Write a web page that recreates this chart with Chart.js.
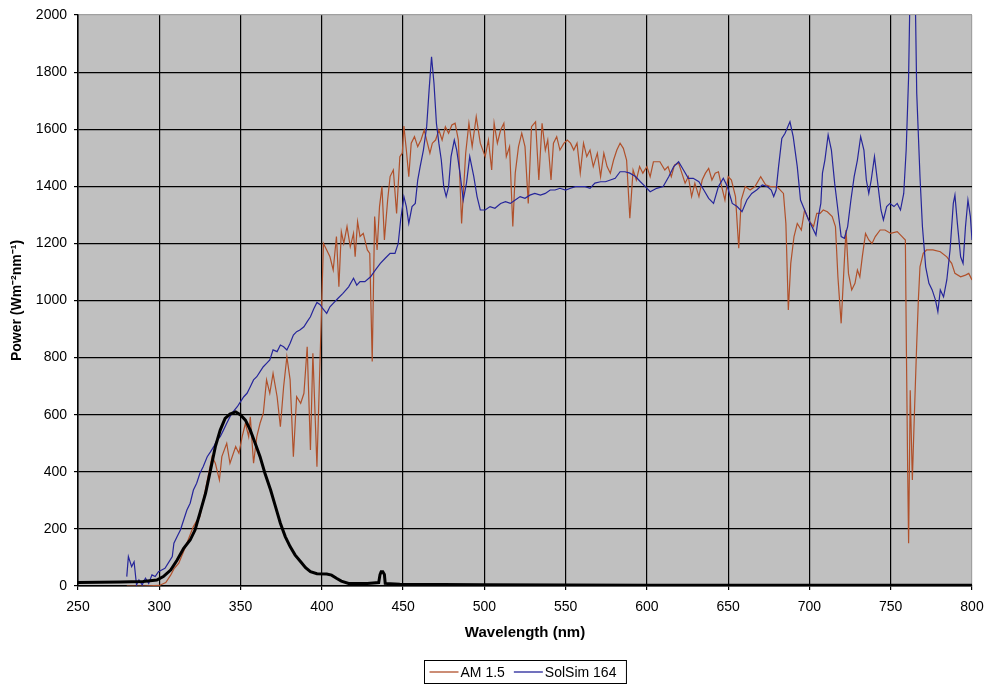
<!DOCTYPE html>
<html>
<head>
<meta charset="utf-8">
<title>AM 1.5 vs SolSim 164</title>
<script src="https://cdn.jsdelivr.net/npm/chart.js@4.4.1/dist/chart.umd.min.js"></script>
<style>
  html, body { margin: 0; padding: 0; background: #fff; }
  #wrap { width: 987px; height: 684px; }
</style>
</head>
<body>
<div id="wrap"><canvas id="spectrum" width="987" height="684"></canvas></div>
<script>
// wavelength (nm) / power pairs
const amWl = [280, 290, 300, 304, 307, 309, 312, 314.5, 317, 319, 321, 323, 325, 327.5, 330, 332.5, 334.5, 337, 338.5, 341.5,
  343.5, 347, 349, 351, 353, 355, 356, 358, 360, 362, 364, 366, 368, 370, 372.5, 374.5, 376.5, 378.5, 380.5, 382.5,
  384.5, 387, 389, 391, 393, 394.5, 397, 401, 403, 405, 407, 409, 410.5, 412, 413.5, 415.5, 417.5, 419.5, 420.5, 422,
  423.5, 425.5, 428, 429.5, 431, 432.5, 434, 435.5, 437, 438.5, 440.5, 442, 444, 446, 448, 449.5, 450.5, 452, 453.5, 455,
  457, 459, 461, 463, 464.5, 466.5, 468, 470, 472, 474, 476, 478, 480, 482, 484, 486, 488.5, 490.5, 492.5, 495,
  497.5, 500.5, 502.5, 504.5, 506, 508, 510, 512, 513.5, 515.5, 517.5, 519, 521, 523, 525, 527, 529, 531.5, 533.5, 535.5,
  537.5, 539, 541, 542.5, 544.5, 546.5, 549, 551, 553, 555, 557, 559, 561, 563, 565, 567, 569.5, 571.5, 573.5, 575.5,
  577.5, 579.5, 581.5, 583.5, 585.5, 587.5, 589.5, 591.5, 593.5, 595.5, 597.5, 600, 602, 604, 608, 611, 613, 615, 617, 619.5,
  621.5, 623.5, 625.5, 627.5, 629.5, 632, 634, 636, 638, 640, 642, 644, 646, 648, 650, 652, 654.5, 656.5, 658, 660.5,
  663.5, 666.5, 670, 673, 676, 680, 684, 685.5, 687, 688.5, 690.5, 692.5, 695, 697, 699.5, 702.5, 704.5, 706.5, 708.5, 711,
  714, 716, 717.5, 719.5, 721.5, 722.5, 724, 726, 728, 729.5, 731, 732.5, 734.5, 736.5, 738.5, 740.5, 743.5, 746.5, 750, 754,
  757, 759, 759.6, 760.4, 761, 762, 763.3, 764.5, 766, 767, 768, 770, 772, 776, 780.5, 784.5, 787.5, 789.5, 793, 796,
  798, 800];
const amVal = [0, 0, 2, 12, 38, 60, 80, 115, 150, 180, 208, 228, 243, 313, 383, 453, 430, 371, 453, 500,
  430, 488, 465, 523, 570, 523, 593, 430, 523, 570, 605, 722, 675, 745, 663, 558, 698, 803, 722, 453,
  663, 640, 675, 838, 476, 815, 418, 1200, 1177, 1153, 1107, 1224, 1048, 1241, 1200, 1259, 1188, 1235, 1153, 1276,
  1224, 1235, 1177, 1165, 786, 1294, 1177, 1329, 1399, 1212, 1352, 1434, 1457, 1305, 1504, 1516, 1611, 1527, 1434, 1551,
  1574, 1539, 1562, 1597, 1562, 1516, 1551, 1562, 1597, 1562, 1609, 1586, 1615, 1621, 1562, 1270, 1516, 1621, 1539, 1644,
  1551, 1504, 1562, 1457, 1621, 1551, 1597, 1621, 1504, 1539, 1259, 1446, 1539, 1586, 1539, 1340, 1609, 1626, 1422, 1621,
  1527, 1562, 1422, 1551, 1574, 1527, 1551, 1562, 1551, 1527, 1551, 1446, 1551, 1504, 1527, 1469, 1516, 1434, 1516, 1469,
  1446, 1492, 1527, 1551, 1533, 1492, 1288, 1457, 1422, 1469, 1446, 1469, 1434, 1486, 1486, 1457, 1469, 1434, 1475, 1481,
  1446, 1411, 1434, 1364, 1411, 1364, 1422, 1446, 1463, 1422, 1446, 1451, 1399, 1352, 1434, 1422, 1364, 1183, 1352, 1399,
  1387, 1399, 1434, 1405, 1399, 1399, 1375, 1270, 967, 1130, 1224, 1270, 1247, 1317, 1282, 1259, 1305, 1305, 1317, 1311,
  1294, 1259, 1083, 920, 1142, 1247, 1095, 1037, 1060, 1107, 1083, 1153, 1235, 1212, 1200, 1224, 1247, 1247, 1235, 1241,
  1224, 1212, 850, 418, 150, 686, 371, 593, 850, 1002, 1118, 1165, 1177, 1177, 1171, 1153, 1130, 1095, 1083, 1089,
  1095, 1072];

const simWl = [280, 281, 283, 284.5, 286, 287.5, 289.5, 291.5, 293.5, 295.5, 297.5, 299.5, 301.5, 303.5, 305.5, 308, 309, 311, 313, 315,
  317, 319, 321, 323, 325, 327, 329.5, 331.5, 333.5, 335.5, 337.5, 339.5, 341.5, 343.5, 345.5, 348, 350, 352, 354, 356,
  358, 360, 362, 364, 366, 368, 370, 372.5, 374.5, 376.5, 378.5, 380.5, 382.5, 384.5, 386.5, 389, 391, 393, 395, 397,
  399, 400.5, 403, 405, 407, 410, 413, 416.5, 419.5, 421.5, 423.5, 426.5, 430, 433, 436, 439, 442, 445, 447, 448.5,
  450.5, 452, 453.5, 455.5, 457.5, 459, 460.5, 462.5, 464.5, 466, 467.5, 469, 470.5, 472, 473.5, 475, 476.5, 478, 479.5, 481.5,
  483, 485, 487, 489, 491, 493.5, 495.5, 497.5, 500.5, 503.5, 506.5, 510, 513, 516, 519, 522, 525, 528, 531, 534.5,
  537.5, 540.5, 543.5, 546.5, 550, 553, 556, 559, 562, 565, 568, 571.5, 574.5, 577.5, 580.5, 583.5, 586.5, 589.5, 593, 596,
  599, 602, 606, 610, 613.5, 616.5, 619.5, 622.5, 625.5, 628.5, 632, 635, 638, 641, 644, 647, 649.5, 652.5, 655.5, 658.5,
  661.5, 664.5, 667.5, 671, 674, 676.5, 678, 679.5, 681, 683, 685, 688, 690, 692.5, 694.5, 697, 699.5, 701.5, 704, 705.5,
  707, 708, 709.5, 711.5, 713.5, 715.5, 717.5, 719.5, 721.5, 723.5, 725.5, 727.5, 729.5, 731.5, 733.5, 735, 736.5, 738, 740, 742,
  744, 745.5, 747.5, 749.5, 752, 754, 756, 758, 759.5, 761, 762.5, 764.5, 766, 768, 769.5, 771.5, 773.5, 775.5, 777.5, 779,
  780.5, 782.5, 784.5, 786.5, 788.5, 789.5, 791, 793, 794.5, 796, 797.5, 799, 800];
const simVal = [33, 103, 68, 85, 4, 21, 4, 27, 9, 39, 33, 50, 56, 62, 80, 103, 150, 173, 196, 231,
  266, 290, 336, 360, 395, 418, 453, 470, 488, 511, 523, 546, 570, 593, 611, 628, 646, 663, 675, 698,
  722, 733, 751, 768, 780, 792, 827, 821, 844, 838, 827, 850, 879, 891, 897, 908, 926, 943, 970, 993,
  985, 972, 955, 978, 990, 1008, 1025, 1048, 1078, 1054, 1066, 1066, 1083, 1107, 1130, 1148, 1165, 1165, 1200, 1282,
  1364, 1329, 1270, 1329, 1340, 1422, 1469, 1527, 1609, 1737, 1854, 1761, 1621, 1551, 1492, 1399, 1364, 1399, 1504, 1562,
  1527, 1446, 1352, 1411, 1504, 1434, 1364, 1317, 1317, 1329, 1323, 1340, 1346, 1340, 1352, 1364, 1358, 1369, 1375, 1369,
  1375, 1387, 1387, 1393, 1387, 1393, 1399, 1399, 1399, 1393, 1411, 1416, 1416, 1422, 1428, 1451, 1451, 1446, 1434, 1416,
  1399, 1381, 1393, 1399, 1434, 1469, 1486, 1457, 1428, 1428, 1416, 1387, 1358, 1340, 1399, 1428, 1399, 1340, 1329, 1311,
  1352, 1375, 1387, 1405, 1399, 1387, 1364, 1387, 1469, 1568, 1586, 1626, 1574, 1469, 1352, 1317, 1282, 1259, 1229, 1294,
  1340, 1446, 1492, 1580, 1527, 1411, 1317, 1224, 1218, 1259, 1352, 1434, 1492, 1574, 1527, 1422, 1375, 1422, 1504, 1411,
  1317, 1282, 1329, 1340, 1329, 1340, 1317, 1375, 1527, 1784, 2300, 2300, 1726, 1434, 1259, 1118, 1060, 1037, 1002, 961,
  1037, 1013, 1072, 1177, 1340, 1369, 1270, 1153, 1130, 1259, 1352, 1294, 1212];

// unlabelled black lamp curve
const lampWl = [250, 276, 290, 298.5, 302.5, 307, 311, 315, 319, 322, 325, 328.5, 331.5, 334.5, 337.5, 340.5, 343.5, 347, 350, 353,
  356, 359, 362, 365, 368.5, 371.5, 374.5, 377.5, 380.5, 383.5, 387, 390, 393, 397, 403, 406, 409, 412, 416.5, 428,
  435, 435.8, 436.5, 437.5, 438.5, 439, 448, 500, 600, 700, 800];
const lampVal = [12, 14, 16, 21, 33, 56, 91, 132, 161, 196, 255, 325, 406, 488, 546, 587, 602, 610, 599, 581,
  546, 500, 453, 395, 336, 278, 220, 173, 138, 109, 85, 64, 50, 43, 42, 38, 27, 17, 9, 9,
  12, 40, 50, 50, 40, 9, 6, 4, 3, 3, 3];

const xTicks = [250, 800, 50];
const yTicks = [0, 2000, 200];

const FONT = "'Liberation Sans', Arial, sans-serif";

function pairs(xs, ys) {
  return xs.map((x, i) => ({ x: x, y: ys[i] }));
}

const plotBackground = {
  id: "plotBackground",
  beforeDraw(chart) {
    const { ctx, chartArea: a } = chart;
    ctx.save();
    ctx.fillStyle = "#c0c0c0";
    ctx.fillRect(a.left, a.top, a.right - a.left, a.bottom - a.top);
    ctx.restore();
  },
};

// boxed legend under the axis title, like the original
const boxLegend = {
  id: "boxLegend",
  afterDraw(chart) {
    const ctx = chart.ctx;
    const a = chart.chartArea;
    const items = chart.data.datasets.filter((d) => d.label);
    ctx.save();
    ctx.font = "14px " + FONT;
    const lineW = 29;
    let total = 7;
    items.forEach((d) => {
      total += lineW + 3 + ctx.measureText(d.label).width + 8;
    });
    total += -8 + 7;
    const left = Math.round((a.left + a.right) / 2 - total / 2) + 0.5;
    const top = 660.5;
    const cy = 672;
    ctx.strokeStyle = "#000";
    ctx.lineWidth = 1;
    ctx.strokeRect(left, top, total, 23);
    let x = left + 5;
    items.forEach((d) => {
      ctx.strokeStyle = d.borderColor;
      ctx.lineWidth = 1.3;
      ctx.beginPath();
      ctx.moveTo(x, cy);
      ctx.lineTo(x + lineW, cy);
      ctx.stroke();
      x += lineW + 2;
      ctx.fillStyle = "#000";
      ctx.textBaseline = "middle";
      ctx.fillText(d.label, x, cy + 1);
      x += ctx.measureText(d.label).width + 9;
    });
    ctx.restore();
  },
};

new Chart(document.getElementById("spectrum").getContext("2d"), {
  type: "line",
  data: {
    datasets: [
      {
        label: "AM 1.5",
        data: pairs(amWl, amVal),
        borderColor: "#b0502a",
        borderWidth: 1.2,
        order: 2,
      },
      {
        label: "SolSim 164",
        data: pairs(simWl, simVal),
        borderColor: "#25259a",
        borderWidth: 1.2,
        order: 1,
      },
      {
        label: "",
        data: pairs(lampWl, lampVal),
        borderColor: "#000",
        borderWidth: 3,
        order: 0,
      },
    ],
  },
  options: {
    responsive: false,
    animation: false,
    layout: { padding: { top: 15, right: 15, left: 0, bottom: 0 } },
    elements: { point: { radius: 0 }, line: { tension: 0 } },
    plugins: { legend: { display: false }, tooltip: { enabled: false } },
    scales: {
      x: {
        type: "linear",
        min: xTicks[0],
        max: xTicks[1],
        afterFit: (s) => {
          s.height = 98;
          s.paddingLeft = 0;
          s.paddingRight = 0;
        },
        ticks: {
          stepSize: xTicks[2],
          color: "#000",
          padding: 9,
          font: { family: FONT, size: 14 },
          callback: (v) => String(v),
        },
        grid: {
          color: (c) => (c.tick && c.tick.value === xTicks[1] ? "#a0a0a0" : "#000"),
          lineWidth: 1.2,
          tickLength: 4,
          tickColor: "#000",
        },
        border: { color: "#000", width: 1.5 },
        title: {
          display: true,
          text: "Wavelength (nm)",
          color: "#000",
          font: { family: FONT, size: 15, weight: "bold" },
          padding: { top: 0, bottom: 42 },
        },
      },
      y: {
        min: yTicks[0],
        max: yTicks[1],
        afterFit: (s) => {
          s.width = 78;
          s.paddingTop = 0;
          s.paddingBottom = 0;
        },
        ticks: {
          stepSize: yTicks[2],
          color: "#000",
          padding: 7,
          font: { family: FONT, size: 14 },
          callback: (v) => String(v),
        },
        grid: {
          color: (c) => (c.tick && c.tick.value === yTicks[1] ? "#a0a0a0" : "#000"),
          lineWidth: 1.2,
          tickLength: 4,
          tickColor: "#000",
        },
        border: { color: "#000", width: 1.5 },
        title: {
          display: true,
          text: "Power (Wm\u207B\u00B2nm\u207B\u00B9)",
          color: "#000",
          font: { family: FONT, size: 14, weight: "bold" },
          padding: { top: 9, bottom: 0 },
        },
      },
    },
  },
  plugins: [plotBackground, boxLegend],
});
</script>
</body>
</html>
